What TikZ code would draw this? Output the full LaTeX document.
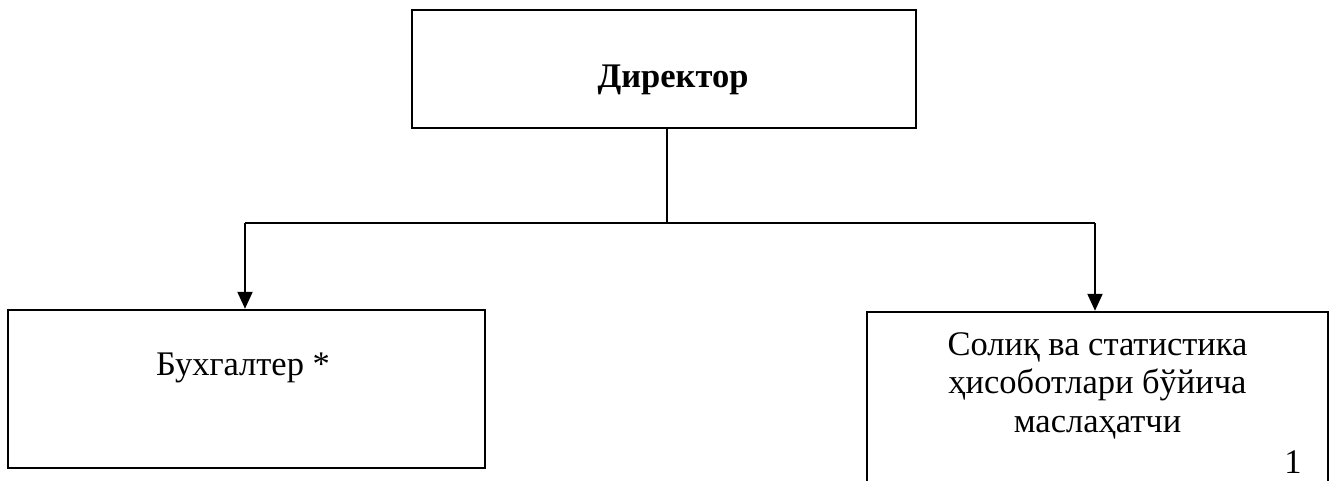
\documentclass[tikz,border=0pt]{standalone}
\usepackage{fontspec}
\setmainfont{Liberation Serif}
\usetikzlibrary{arrows.meta}
\begin{document}
\begin{tikzpicture}[x=1pt,y=-1pt,
  box/.style={draw=black, line width=2.5pt, rectangle, inner sep=0pt},
  txt/.style={font=\fontsize{34.5}{38.5}\selectfont, inner sep=0pt, align=center},
  conn/.style={draw=black, line width=2.2pt},
  arr/.style={conn, -{Triangle[length=17pt,width=15pt]}}]
\useasboundingbox (0,0) rectangle (1334,480);
\clip (0,0) rectangle (1334,480);
% boxes
\node[box, minimum width=504pt, minimum height=118pt] (dir) at (664,69) {};
\node[box, minimum width=477pt, minimum height=158pt] (buh) at (246.5,389) {};
\node[box, minimum width=461pt, minimum height=200pt] (sol) at (1097.5,412) {};
% texts
\node[txt, font=\fontsize{34.5}{38.5}\selectfont\bfseries, anchor=base] (dirt) at (673,87) {Директор};
\node[txt, anchor=base] (buht) at (243,375) {Бухгалтер *};
\node[txt, anchor=base] (solt) at (1097.5,432) {Солиқ ва статистика\\ҳисоботлари бўйича\\маслаҳатчи};
\node[txt, anchor=base] (num) at (1293,473) {1};
% connectors
\coordinate (jL) at (245,223);
\coordinate (jR) at (1095,223);
\coordinate (jM) at (667,223);
\draw[conn] (dir.south -| jM) -- (jM);
\draw[conn] (jL) -- (jR);
\draw[arr] (jL) -- (jL |- buh.north);
\draw[arr] (jR) -- (jR |- sol.north);
\end{tikzpicture}
\end{document}
